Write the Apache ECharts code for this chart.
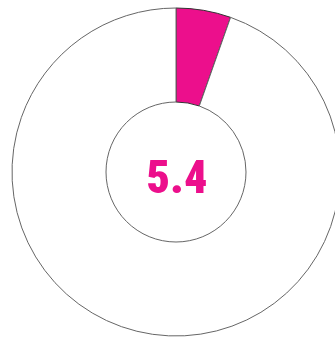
<!DOCTYPE html>
<html>
<head>
<meta charset="utf-8">
<style>
  html, body { margin: 0; padding: 0; background: #fff; }
  #chart { width: 335px; height: 339px; }
</style>
<script src="https://cdn.jsdelivr.net/npm/echarts@6/dist/echarts.min.js"></script>
</head>
<body>
<div id="chart"></div>
<script>
// Share shown in the ring, and the remainder of the whole
const categories = ['Share', 'Rest'];
const values = [5.4, 94.6];
const colors = ['#EC0F8C', '#FFFFFF'];
const borders = ['#333333', '#666666'];
const centerLabel = '5.4';

const chart = echarts.init(document.getElementById('chart'), null, { renderer: 'canvas' });

chart.setOption({
  animation: false,
  backgroundColor: '#ffffff',
  title: {
    text: centerLabel,
    left: 172,
    top: 176,
    textAlign: 'center',
    textVerticalAlign: 'middle',
    textStyle: {
      color: '#EC0F8C',
      fontFamily: 'Roboto Condensed, Roboto',
      fontWeight: 900,
      fontSize: 46
    }
  },
  series: [{
    type: 'pie',
    center: [176, 172],
    radius: [70, 164],
    startAngle: 90,
    clockwise: true,
    silent: true,
    label: { show: false },
    labelLine: { show: false },
    data: categories.map((name, i) => ({
      name,
      value: values[i],
      itemStyle: { color: colors[i], borderColor: borders[i], borderWidth: 1 }
    }))
  }]
});
</script>
</body>
</html>
